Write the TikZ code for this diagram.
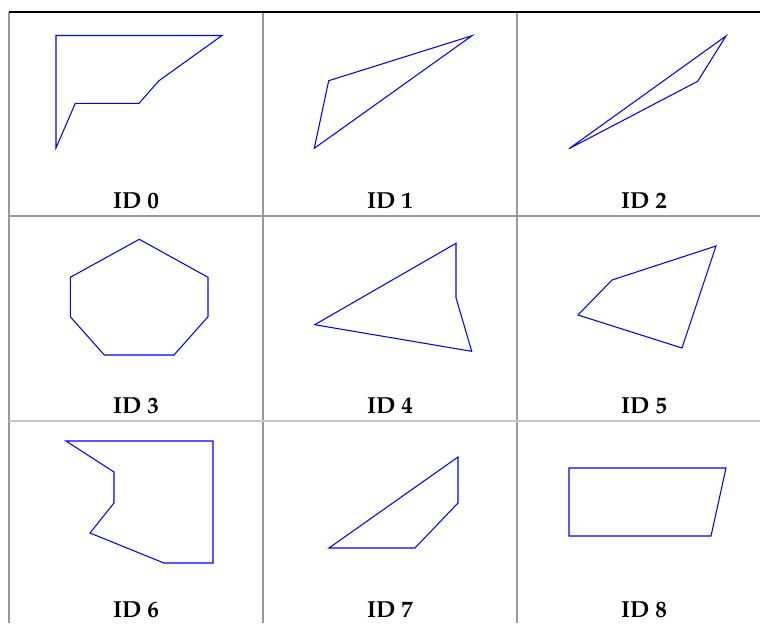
\documentclass[tikz,border=0pt]{standalone}
\usepackage[T1]{fontenc}
\usepackage{mathpazo}
\usepackage{tikz}
\usetikzlibrary{positioning,calc}

\tikzset{
  polyline/.style={draw=blue,line width=0.6pt,line join=miter},
  tabline/.style={draw=gray!80,line width=0.7pt},
  idlabel/.style={anchor=base,font=\fontsize{13.2}{16}\selectfont\bfseries}
}

\begin{document}
\begin{tikzpicture}[x=0.02cm,y=-0.02cm]

\useasboundingbox (0,0) rectangle (760,623);

% table lines
\draw[tabline] (9,12) -- (9,623);
\draw[tabline] (263,12) -- (263,623);
\draw[tabline] (517,12) -- (517,623);
\draw[tabline] (9,216) -- (760,216);
\draw[tabline,draw=gray!45] (9,421) -- (760,421);
\draw[line width=0.8pt] (9,12) -- (760,12);

% row 1
\draw[polyline] (56,35.5) -- (222,35.5) -- (159,80.7) -- (139,103.3) -- (75.3,103.3) -- (56,148) -- cycle;
\draw[polyline] (472,35.7) -- (328.7,80.7) -- (314.3,148.3) -- cycle;
\draw[polyline] (726,36) -- (697.7,81.3) -- (569,148.7) -- cycle;

% row 2
\draw[polyline] (139.3,239.3) -- (208,277.3) -- (208,316.7) -- (174,355) -- (104.3,355) -- (70.3,316.7) -- (70.3,277.3) -- cycle;
\draw[polyline] (456,243.3) -- (456,297.7) -- (471.7,351.3) -- (314.7,324.7) -- cycle;
\draw[polyline] (716,246) -- (682,348) -- (578,315) -- (612,280) -- cycle;

% row 3
\draw[polyline] (66,441) -- (213,441) -- (213,563) -- (164,563) -- (90,533) -- (114,503) -- (114,472) -- cycle;
\draw[polyline] (458,457) -- (458,503) -- (415,548) -- (329,548) -- cycle;
\draw[polyline] (569,468) -- (726,468) -- (711,536) -- (569,536) -- cycle;

% labels
\node[idlabel] (id0) at (136,208) {ID 0};
\node[idlabel] (id1) at (390,208) {ID 1};
\node[idlabel] (id2) at (644,208) {ID 2};
\node[idlabel] (id3) at (136,413) {ID 3};
\node[idlabel] (id4) at (390,413) {ID 4};
\node[idlabel] (id5) at (644,413) {ID 5};
\node[idlabel] (id6) at (136,617) {ID 6};
\node[idlabel] (id7) at (390,617) {ID 7};
\node[idlabel] (id8) at (644,617) {ID 8};

\end{tikzpicture}
\end{document}
